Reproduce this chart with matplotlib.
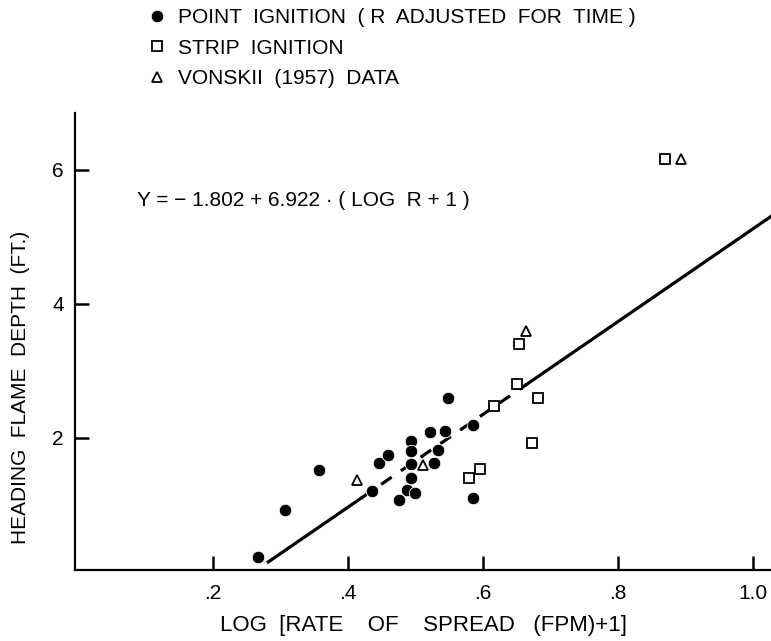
import numpy as np
import matplotlib.pyplot as plt

plt.rcParams['font.family'] = ['Liberation Sans', 'DejaVu Sans']

# point ignition (filled circles)
point_x = [0.267, 0.307, 0.357, 0.436, 0.446, 0.459, 0.493, 0.493, 0.493, 0.493,
           0.487, 0.499, 0.476, 0.521, 0.544, 0.534, 0.528, 0.548, 0.585, 0.586]
point_y = [0.23, 0.93, 1.52, 1.21, 1.62, 1.74, 1.96, 1.80, 1.61, 1.41,
           1.22, 1.18, 1.07, 2.09, 2.11, 1.82, 1.62, 2.60, 2.19, 1.11]

# strip ignition (open squares)
strip_x = [0.654, 0.651, 0.682, 0.616, 0.673, 0.596, 0.580, 0.870]
strip_y = [3.40, 2.80, 2.59, 2.48, 1.92, 1.53, 1.41, 6.16]

# Vonskii (1957) data (open triangles)
von_x = [0.413, 0.512, 0.664, 0.893]
von_y = [1.38, 1.60, 3.60, 6.16]

# regression Y = a + b*X, drawn solid / dashed / solid
a, b = -1.802, 6.922
seg_solid1 = [0.282, 0.42]
seg_dash = [0.42, 0.665]
seg_solid2 = [0.665, 1.04]

fig = plt.figure(figsize=(7.71, 6.41), dpi=100)
ax = fig.add_axes([75/771, 1-570/641, 1-75/771, (570-113)/641])

for seg, ls in [(seg_solid1, '-'), (seg_dash, (0, (4, 3.5))), (seg_solid2, '-')]:
    xs = np.array(seg)
    ax.plot(xs, a + b*xs, color='black', lw=2.3, ls=ls, zorder=1)

h1, = ax.plot(point_x, point_y, 'o', color='black', ms=9, mec='white', mew=0.6, zorder=3,
              label='POINT  IGNITION  ( R  ADJUSTED  FOR  TIME )')
h2, = ax.plot(strip_x, strip_y, 's', mfc='white', mec='black', ms=6.5, mew=1.3, zorder=3,
              label='STRIP  IGNITION')
h3, = ax.plot(von_x, von_y, '^', mfc='white', mec='black', ms=7, mew=1.3, zorder=3,
              label='VONSKII  (1957)  DATA')

ax.text(0.088, 5.55, 'Y = \u2212 1.802 + 6.922 \u00b7 ( LOG  R + 1 )', fontsize=15,
        va='center')

ax.set_xlim(-0.0044, 1.027)
ax.set_ylim(0.03, 6.85)
ax.set_xticks([0.2, 0.4, 0.6, 0.8, 1.0])
ax.set_xticklabels(['.2', '.4', '.6', '.8', '1.0'])
ax.set_yticks([2, 4, 6])
ax.tick_params(direction='in', length=10, width=1.8, labelsize=15, pad=10)
ax.tick_params(axis='y', pad=8)
for s in ['top', 'right']:
    ax.spines[s].set_visible(False)
for s in ['left', 'bottom']:
    ax.spines[s].set_linewidth(1.6)

ax.set_xlabel('LOG  [RATE    OF    SPREAD   (FPM)+1]', fontsize=16, labelpad=9)
ax.set_ylabel('HEADING  FLAME  DEPTH  (FT.)', fontsize=15)
ax.yaxis.set_label_coords(-0.065, 0.40)

fig.legend(handles=[h1, h2, h3], loc='upper left', bbox_to_anchor=(140/771, 1.0),
           frameon=False, fontsize=15, handlelength=0.8, handletextpad=0.6,
           labelspacing=0.54, borderaxespad=0.0)

fig.savefig('out.png', dpi=100)
